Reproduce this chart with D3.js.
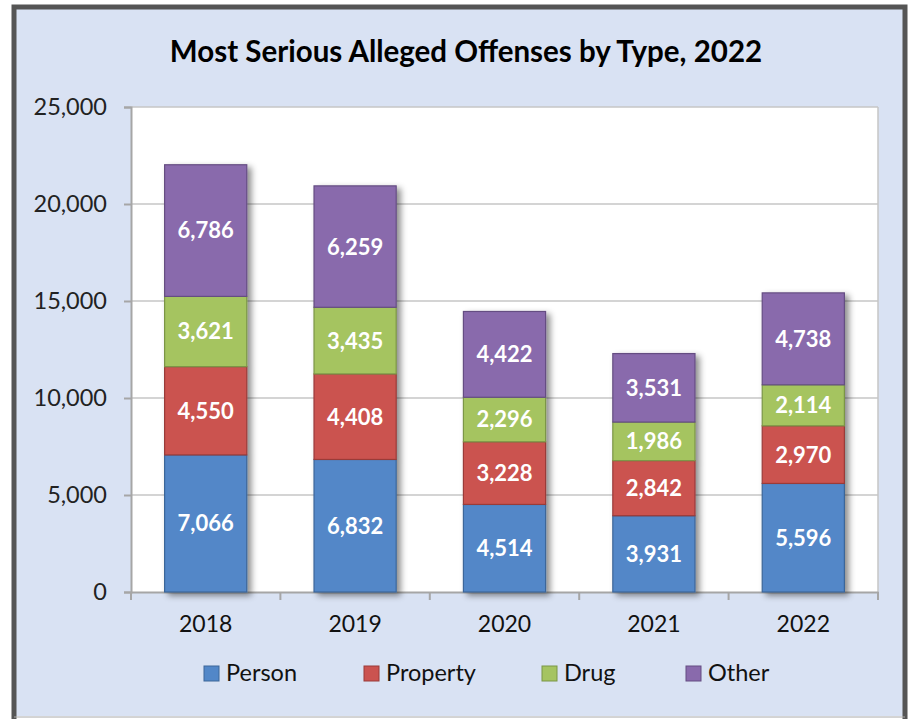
<!DOCTYPE html>
<html>
<head>
<meta charset="utf-8">
<script src="https://cdn.jsdelivr.net/npm/d3@7"></script>
<style>
  body { margin: 0; background: #ffffff; }
  svg { display: block; font-family: Lato, "Open Sans", sans-serif; }
</style>
</head>
<body>
<div id="chart"></div>
<script>
// data
const years = ["2018", "2019", "2020", "2021", "2022"];
const seriesNames = ["Person", "Property", "Drug", "Other"];
const person   = [7066, 6832, 4514, 3931, 5596];
const property = [4550, 4408, 3228, 2842, 2970];
const drug     = [3621, 3435, 2296, 1986, 2114];
const other    = [6786, 6259, 4422, 3531, 4738];
const yTicks = [0, 5000, 10000, 15000, 20000, 25000];
const colors = ["#5287c8", "#cb5350", "#a5c461", "#896aac"];
const edges  = ["#3c6699", "#9a3b39", "#7b9646", "#654d82"];

const width = 909, height = 719;
const margin = { top: 107, right: 31, bottom: 127, left: 131 };

const rows = years.map((y, i) => ({
  year: y, Person: person[i], Property: property[i], Drug: drug[i], Other: other[i]
}));
const stacked = d3.stack().keys(seriesNames)(rows);

const svg = d3.select("#chart").append("svg")
  .attr("width", width)
  .attr("height", height);

const defs = svg.append("defs");
defs.append("filter")
    .attr("id", "shadow")
    .attr("x", "-20%").attr("y", "-20%")
    .attr("width", "150%").attr("height", "150%")
  .append("feDropShadow")
    .attr("dx", 4).attr("dy", 3)
    .attr("stdDeviation", 3)
    .attr("flood-color", "#000")
    .attr("flood-opacity", 0.45);

// frame
svg.append("rect")
  .attr("x", 14).attr("y", 7)
  .attr("width", 891).attr("height", 709)
  .attr("fill", "#d9e2f3");
svg.append("path")
  .attr("d", "M14,719 L14,7 L905,7 L905,719")
  .attr("fill", "none")
  .attr("stroke", "#555555")
  .attr("stroke-width", 5);
svg.append("line")
  .attr("x1", 14).attr("x2", 905)
  .attr("y1", 717).attr("y2", 717)
  .attr("stroke", "#a8a8a8")
  .attr("stroke-width", 1);

var x = d3.scaleBand()
  .domain(years)
  .range([margin.left, width - margin.right])
  .paddingInner(0.45)
  .paddingOuter(0.225);

var y = d3.scaleLinear()
  .domain([0, 25000])
  .range([height - margin.bottom, margin.top]);

// plot area
svg.append("rect")
  .attr("x", margin.left)
  .attr("y", margin.top)
  .attr("width", width - margin.left - margin.right)
  .attr("height", height - margin.top - margin.bottom)
  .attr("fill", "#ffffff");

// gridlines
svg.append("g")
  .selectAll("line")
  .data(yTicks.slice(1))
  .enter()
  .append("line")
  .attr("x1", margin.left)
  .attr("x2", width - margin.right)
  .attr("y1", d => y(d))
  .attr("y2", d => y(d))
  .attr("stroke", "#c6c6c6")
  .attr("stroke-width", 1.5);

// right border of plot
svg.append("line")
  .attr("x1", width - margin.right).attr("x2", width - margin.right)
  .attr("y1", margin.top).attr("y2", height - margin.bottom)
  .attr("stroke", "#c6c6c6")
  .attr("stroke-width", 1.5);

// y axis
const yAxis = svg.append("g")
  .attr("transform", "translate(" + margin.left + ",0)")
  .call(d3.axisLeft(y).tickValues(yTicks).tickSize(7).tickPadding(17)
    .tickFormat(d3.format(",")));
yAxis.selectAll("line, path").attr("stroke", "#a6a6a6").attr("stroke-width", 2);
yAxis.selectAll("text")
  .attr("font-size", 23.5)
  .attr("fill", "#222")
  .style("font-family", "Lato, sans-serif");

// x axis
const xAxis = svg.append("g")
  .attr("transform", "translate(0," + (height - margin.bottom) + ")")
  .call(d3.axisBottom(x).tickSize(0).tickPadding(24));
xAxis.select("path").attr("stroke", "#a6a6a6").attr("stroke-width", 2);
xAxis.selectAll("text")
  .attr("font-size", 23)
  .attr("fill", "#111")
  .style("font-family", "Lato, sans-serif");

// category boundary ticks
const step = x.step();
const bounds = [margin.left].concat(years.map(d => x(d) - x.paddingInner() * step / 2 + step));
svg.append("g")
  .selectAll("line")
  .data(bounds)
  .enter()
  .append("line")
  .attr("x1", d => d).attr("x2", d => d)
  .attr("y1", height - margin.bottom)
  .attr("y2", height - margin.bottom + 8)
  .attr("stroke", "#a6a6a6")
  .attr("stroke-width", 2);

// bars
const bars = svg.append("g").attr("filter", "url(#shadow)");
stacked.forEach((s, si) => {
  bars.append("g")
    .selectAll("rect")
    .data(s)
    .enter()
    .append("rect")
    .attr("x", d => x(d.data.year))
    .attr("y", d => y(d[1]))
    .attr("width", x.bandwidth())
    .attr("height", d => y(d[0]) - y(d[1]))
    .attr("fill", colors[si])
    .attr("stroke", edges[si])
    .attr("stroke-width", 1.2);
});

// data labels
stacked.forEach((s, si) => {
  svg.append("g")
    .selectAll("text")
    .data(s)
    .enter()
    .append("text")
    .attr("x", d => x(d.data.year) + x.bandwidth() / 2)
    .attr("y", d => (y(d[0]) + y(d[1])) / 2)
    .attr("dy", "0.36em")
    .attr("text-anchor", "middle")
    .attr("font-size", 22)
    .attr("font-weight", "bold")
    .attr("fill", "#ffffff")
    .text(d => d3.format(",")(d[1] - d[0]));
});

// title
svg.append("text")
  .attr("x", 466)
  .attr("y", 62)
  .attr("text-anchor", "middle")
  .attr("font-size", 29.5)
  .attr("font-weight", "bold")
  .attr("fill", "#000")
  .text("Most Serious Alleged Offenses by Type, 2022");

// legend
const legendX = [204, 364, 542, 686];
const legend = svg.append("g")
  .selectAll("g")
  .data(seriesNames)
  .enter()
  .append("g")
  .attr("transform", (d, i) => "translate(" + legendX[i] + ",666)");
legend.append("rect")
  .attr("width", 15).attr("height", 15)
  .attr("fill", (d, i) => colors[i])
  .attr("stroke", (d, i) => edges[i])
  .attr("stroke-width", 1);
legend.append("text")
  .attr("x", 22)
  .attr("y", 15)
  .attr("font-size", 23.5)
  .attr("fill", "#111")
  .text(d => d);
</script>
</body>
</html>
